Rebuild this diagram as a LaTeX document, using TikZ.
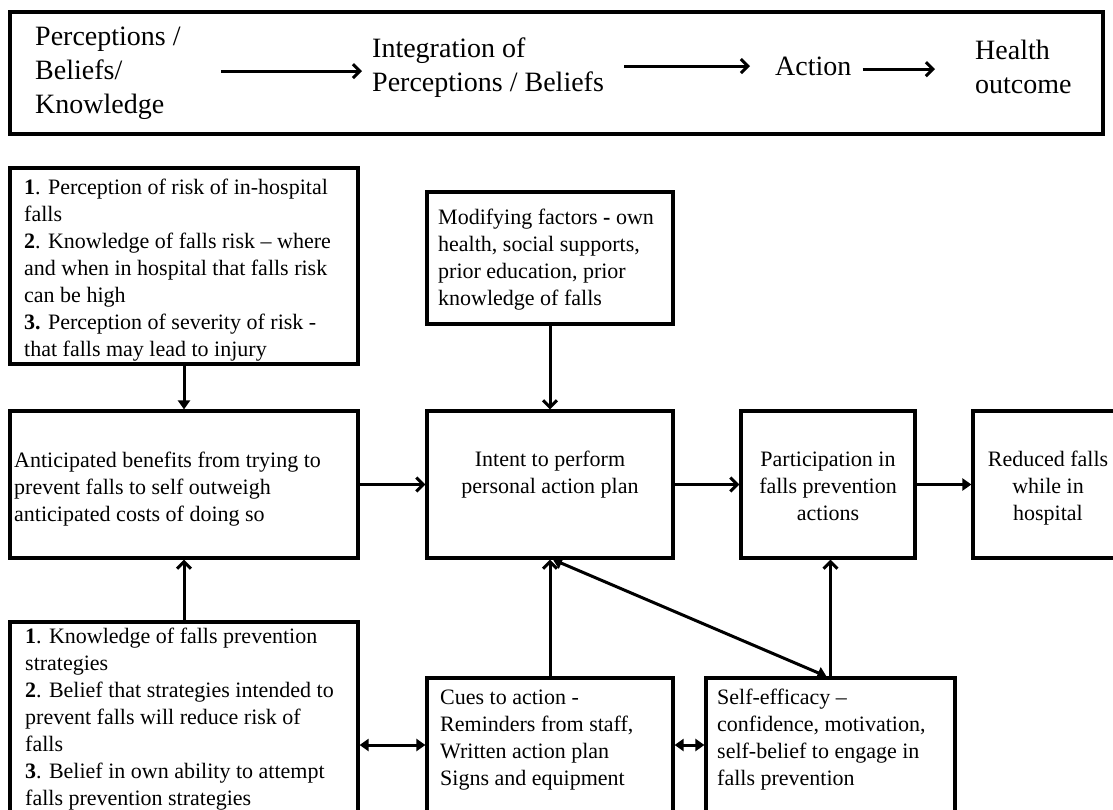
\documentclass[tikz,border=0pt]{standalone}
\usepackage{fontspec}
\setmainfont{Liberation Serif}
\usetikzlibrary{arrows.meta,calc}
\begin{document}
\begin{tikzpicture}[x=1pt,y=-1pt,
  box/.style={draw, line width=3.2pt, inner sep=0pt},
  txt/.style={inner sep=0pt, align=left, anchor=north west, font=\fontsize{22}{27}\selectfont},
  ctxt/.style={inner sep=0pt, align=center, anchor=north, font=\fontsize{22}{27}\selectfont},
  big/.style={inner sep=0pt, align=left, anchor=north west, font=\fontsize{28}{34}\selectfont},
  barb/.style={line width=3pt, -{Straight Barb[length=7pt,width=14pt]}},
  tri/.style={line width=3pt, -{Triangle[length=9pt,width=12pt]}},
  dtri/.style={line width=3pt, {Triangle[length=9pt,width=12pt]}-{Triangle[length=9pt,width=12pt]}},
]
\useasboundingbox (0,0) rectangle (1113,810);

% boxes
\node[box, minimum width=1093pt, minimum height=122pt] (top) at (556.5,73) {};
\node[box, minimum width=348pt, minimum height=196pt] (riskA) at (184,266) {};
\node[box, minimum width=246pt, minimum height=132pt] (modif) at (550,258) {};
\node[box, minimum width=348pt, minimum height=147pt] (benef) at (184,484.5) {};
\node[box, minimum width=246pt, minimum height=147pt] (intent) at (550,484.5) {};
\node[box, minimum width=174pt, minimum height=147pt] (partic) at (828,484.5) {};
\node[box, minimum width=160pt, minimum height=147pt] (reduced) at (1053,484.5) {};
\node[box, minimum width=348pt, minimum height=208pt] (knowl) at (184,726) {};
\node[box, minimum width=246pt, minimum height=152pt] (cues) at (550,754) {};
\node[box, minimum width=249pt, minimum height=152pt] (selfeff) at (830.5,754) {};

% top row texts
\node[big] (t1) at (35,22) {\strut Perceptions /\\Beliefs/\\Knowledge};
\node[big] (t2) at (372,34) {\strut Integration of\\Perceptions / Beliefs};
\node[big] (t3) at (775,52) {\strut Action};
\node[big] (t4) at (975,36) {\strut Health\\outcome};

\draw[barb] ($(t1.east)+(40,0)$) -- ($(t1.east -| t2.west)+(-10,0)$);
\draw[barb] ($(t2.east)+(20,0)$) -- ($(t2.east -| t3.west)+(-25,0)$);
\draw[barb] ($(t3.east)+(11,0)$) -- ($(t3.east -| t4.west)+(-40,0)$);

% box texts
\node[txt] (riskAt) at (24,175) {\strut\textbf{1}. Perception of risk of in-hospital\\falls\\\textbf{2}. Knowledge of falls risk – where\\and when in hospital that falls risk\\can be high\\\textbf{3.} Perception of severity of risk -\\that falls may lead to injury};
\node[txt] (modift) at (438,205) {\strut Modifying factors \textbf{-} own\\health, social supports,\\prior education, prior\\knowledge of falls};
\node[txt] (beneft) at (14,448) {\strut Anticipated benefits from trying to\\prevent falls to self outweigh\\anticipated costs of doing so};
\node[ctxt] (intentt) at (550,447) {\strut Intent to perform\\personal action plan};
\node[ctxt] (partict) at (828,447) {\strut Participation in\\falls prevention\\actions};
\node[ctxt] (reducedt) at (1048,447) {\strut Reduced falls\\while in\\hospital};
\node[txt] (knowlt) at (25,624) {\strut\textbf{1}. Knowledge of falls prevention\\strategies\\\textbf{2}. Belief that strategies intended to\\prevent falls will reduce risk of\\falls\\\textbf{3}. Belief in own ability to attempt\\falls prevention strategies};
\node[txt] (cuest) at (440,685) {\strut Cues to action -\\Reminders from staff,\\Written action plan\\Signs and equipment};
\node[txt] (selfefft) at (717,685) {\strut Self-efficacy –\\confidence, motivation,\\self-belief to engage in\\falls prevention};

% connectors
\draw[tri] (riskA) -- (benef);
\draw[barb] (knowl.north) -- (benef.south);
\draw[barb] (modif) -- (intent);
\draw[barb] (benef) -- (intent);
\draw[barb] (intent) -- (partic);
\draw[tri] (partic) -- (reduced);
\draw[barb] (cues) -- (intent);
\draw[barb] (selfeff.north) -- (selfeff.north |- partic.south);
\draw[dtri] ($(intent.south)+(3,0)$) -- ($(selfeff.north)+(-4,0)$);
\coordinate (low) at (0,745);
\draw[dtri] (knowl.east |- low) -- (cues.west |- low);
\draw[dtri] (cues.east |- low) -- (selfeff.west |- low);
\end{tikzpicture}
\end{document}
